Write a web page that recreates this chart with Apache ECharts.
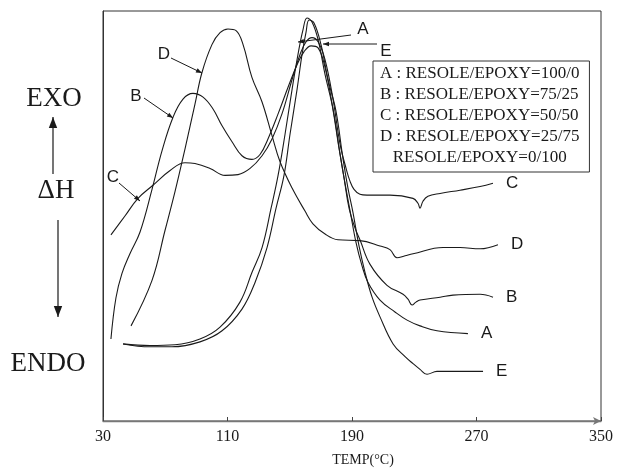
<!DOCTYPE html>
<html>
<head>
<meta charset="utf-8">
<script src="https://cdn.jsdelivr.net/npm/echarts@6/dist/echarts.min.js"></script>
<style>
  html, body { margin: 0; padding: 0; background: #fff; }
  #main { width: 623px; height: 472px; }
</style>
</head>
<body>
<div id="main"></div>
<script>
// DSC 曲線 (TEMP °C , ΔH arbitrary units 0..100)
var tempTicks = [30, 110, 190, 270, 350];

var curveA = [[42.9,18.8],[60.2,18.4],[76.3,18.6],[92.3,20.0],[105.2,22.9],[118.0,29.0],[125.7,36.2],
  [132.2,42.3],[138.0,51.9],[142.5,59.9],[147.0,70.0],[151.5,80.9],[155.3,89.4],[158.5,95.4],[161.1,98.3],
  [164.3,97.3],[168.2,93.0],[172.7,84.5],[177.8,76.1],[182.3,65.2],[185.5,58.0],[188.7,51.4],[192.6,43.5],
  [196.4,37.9],[200.3,33.8],[208.0,29.5],[217.6,26.6],[225.4,24.6],[233.7,23.2],[244.6,22.0],[264.5,21.3]];

var curveB = [[35.1,20.0],[38.3,30.0],[42.2,36.0],[47.3,40.8],[53.8,46.1],[61.5,56.5],[67.9,65.9],
  [75.0,74.1],[81.4,78.5],[87.8,79.9],[94.3,79.0],[100.7,76.1],[106.5,72.0],[112.9,68.1],[119.3,64.7],
  [125.7,63.8],[130.9,65.0],[136.0,68.8],[142.5,74.9],[148.9,81.4],[154.7,86.9],[159.2,90.1],[163.7,91.5],
  [168.2,91.0],[172.7,86.2],[177.2,77.3],[181.7,66.4],[184.9,59.2],[188.1,51.9],[191.9,47.1],[195.1,44.2],
  [201.6,38.2],[212.5,33.1],[222.8,30.9],[226.0,29.7],[228.6,28.3],[231.1,29.0],[233.7,29.5],[246.6,30.2],
  [254.9,30.7],[272.3,30.9],[280.6,30.2]];

var curveC = [[35.1,45.4],[44.1,50.0],[52.5,54.3],[62.1,57.5],[73.1,61.1],[82.7,63.0],[89.1,62.8],
  [98.8,61.6],[108.4,59.9],[116.8,60.1],[124.5,61.6],[132.2,64.7],[138.6,68.8],[145.0,74.9],[151.5,83.3],
  [156.6,89.4],[160.5,92.5],[164.3,93.5],[168.2,92.5],[172.7,88.1],[177.8,78.5],[182.3,67.6],[186.2,61.6],
  [188.7,58.5],[191.3,56.5],[195.1,55.3],[199.6,55.1],[214.4,55.1],[229.2,54.3],[232.4,53.1],[233.7,51.9],
  [235.6,53.6],[238.8,54.8],[246.6,55.5],[259.4,56.3],[272.3,57.2],[280.6,58.0]];

var curveD = [[48.0,23.2],[61.5,34.3],[69.8,46.4],[76.3,56.0],[82.7,66.4],[89.1,77.3],[93.6,85.0],
  [100.0,91.8],[105.2,94.7],[110.3,95.6],[115.5,95.2],[120.0,91.8],[125.7,83.8],[132.2,77.8],[138.6,69.6],
  [143.7,63.3],[151.5,56.8],[159.8,51.2],[164.9,48.1],[172.7,45.6],[181.0,44.2],[195.1,44.0],[208.0,42.7],
  [214.4,41.8],[218.9,39.8],[224.1,40.3],[229.2,40.8],[248.5,42.3],[259.4,42.3],[272.3,42.0],[283.8,43.0]];

var curveE = [[42.9,18.8],[60.2,18.1],[74.3,18.1],[92.3,19.3],[106.5,22.0],[119.3,27.3],[127.7,33.8],
  [135.4,42.3],[141.2,51.9],[146.3,59.9],[150.2,70.0],[154.7,80.9],[157.9,89.4],[160.5,94.9],[162.4,97.8],
  [165.6,97.1],[170.1,91.8],[174.6,83.3],[179.7,75.6],[184.2,64.0],[187.4,56.8],[190.7,50.7],[194.5,42.7],
  [198.4,36.2],[202.9,30.2],[208.0,25.4],[216.4,18.8],[224.1,15.7],[229.2,14.0],[233.7,12.6],[238.2,11.4],
  [244.6,12.1],[259.4,12.1],[274.2,12.1]];

var curveNames = ['A', 'B', 'C', 'D', 'E'];
var curveData = [curveA, curveB, curveC, curveD, curveE];
var legendText = {
  A: 'A : RESOLE/EPOXY=100/0',
  B: 'B : RESOLE/EPOXY=75/25',
  C: 'C : RESOLE/EPOXY=50/50',
  D: 'D : RESOLE/EPOXY=25/75',
  E: '\u00a0\u00a0\u00a0RESOLE/EPOXY=0/100'
};

var SERIF = '"Liberation Serif", "DejaVu Serif", serif';
var SANS = '"Liberation Sans", "DejaVu Sans", sans-serif';
var INK = '#1a1a1a';

function txt(s, x, y, size, family) {
  return {
    type: 'text', x: x, y: y, silent: true,
    style: { text: s, fontSize: size, fontFamily: family, fill: INK, align: 'center', verticalAlign: 'middle' }
  };
}

// 화살표 (선 + 삼각형 머리)
function arrow(x1, y1, x2, y2, h, lw) {
  var a = Math.atan2(y2 - y1, x2 - x1);
  var c = Math.cos(a), s = Math.sin(a), w = h * 0.38;
  return [
    { type: 'line', silent: true, shape: { x1: x1, y1: y1, x2: x2, y2: y2 },
      style: { stroke: INK, lineWidth: lw || 1 } },
    { type: 'polygon', silent: true,
      shape: { points: [[x2, y2], [x2 - h * c + w * s, y2 - h * s - w * c], [x2 - h * c - w * s, y2 - h * s + w * c]] },
      style: { fill: INK } }
  ];
}

var graphics = [
  txt('EXO', 54, 99, 27, SERIF),
  txt('\u0394H', 56, 191, 27, SERIF),
  txt('ENDO', 48, 364, 27, SERIF),
  txt('A', 363, 29, 17, SANS),
  txt('E', 386, 51, 17, SANS),
  txt('D', 164, 54, 17, SANS),
  txt('B', 136, 96, 17, SANS),
  txt('C', 113, 177, 17, SANS)
]
  .concat(arrow(53, 174, 53, 117, 11, 1.2))
  .concat(arrow(58, 220, 58, 317, 11, 1.2))
  .concat(arrow(351, 35, 298, 42, 6))
  .concat(arrow(377, 44, 323, 44, 6))
  .concat(arrow(171, 58, 202, 73, 6))
  .concat(arrow(144, 98, 173, 118, 6))
  .concat(arrow(119, 183, 140, 201, 6));

var myChart = echarts.init(document.getElementById('main'), null, { renderer: 'canvas' });

var series = curveNames.map(function (n, i) {
  return {
    name: n,
    type: 'line',
    data: curveData[i],
    smooth: 0.4,
    showSymbol: false,
    symbol: 'none',
    lineStyle: { color: INK, width: 1.1 },
    itemStyle: { color: INK },
    endLabel: {
      show: true, formatter: '{a}', distance: 13,
      fontFamily: SANS, fontSize: 17, color: INK
    }
  };
});

var option = {
  animation: false,
  backgroundColor: '#fff',
  grid: {
    left: 103, right: 22, top: 11, bottom: 47,
    show: true, borderColor: '#333', borderWidth: 1
  },
  legend: {
    data: curveNames,
    orient: 'vertical',
    left: 373, top: 61,
    icon: 'none', itemWidth: 0, itemHeight: 14, itemGap: 4,
    padding: [4, 10, 6, 2],
    borderColor: '#333', borderWidth: 1,
    selectedMode: false,
    formatter: function (n) { return legendText[n]; },
    textStyle: { fontFamily: SERIF, fontSize: 17, color: INK }
  },
  xAxis: {
    type: 'value',
    min: tempTicks[0], max: tempTicks[tempTicks.length - 1],
    interval: tempTicks[1] - tempTicks[0],
    name: 'TEMP(\u00b0C)',
    nameLocation: 'middle', nameGap: 32,
    nameTextStyle: { fontFamily: SERIF, fontSize: 14, color: INK, padding: [0, 0, 0, 22] },
    axisLine: { lineStyle: { color: '#777', width: 1.4 }, symbol: ['none', 'arrow'], symbolSize: [6, 8] },
    axisTick: { inside: true, length: 4, lineStyle: { color: '#444' } },
    axisLabel: { fontFamily: SERIF, fontSize: 16, color: INK, margin: 8 },
    splitLine: { show: false }
  },
  yAxis: {
    type: 'value', min: 0, max: 100,
    axisLine: { show: true, lineStyle: { color: '#333', width: 1 } },
    axisTick: { show: false },
    axisLabel: { show: false },
    splitLine: { show: false }
  },
  series: series,
  graphic: graphics
};

myChart.setOption(option);
</script>
</body>
</html>
